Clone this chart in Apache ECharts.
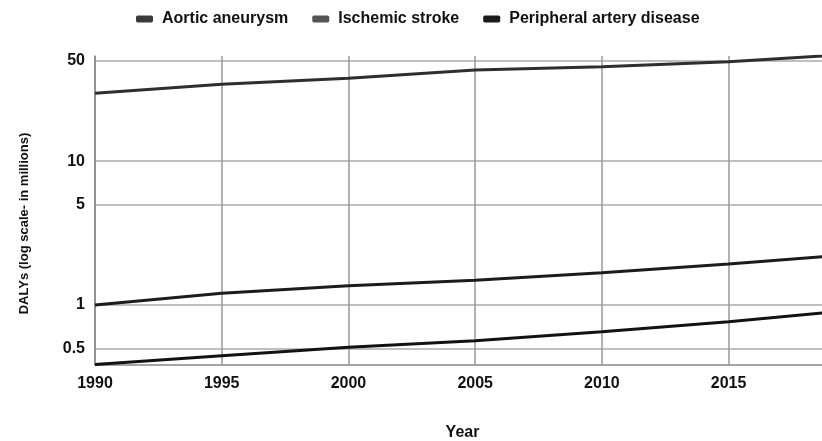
<!DOCTYPE html>
<html><head><meta charset="utf-8">
<script src="https://cdn.jsdelivr.net/npm/echarts@6/dist/echarts.min.js"></script>
<style>html,body{margin:0;padding:0;background:#fff}#c{width:822px;height:441px}</style>
</head><body><div id="c"></div>
<script>
const years = [1990, 1995, 2000, 2005, 2010, 2015, 2019];
const aorticAneurysm = [1.0, 1.21, 1.36, 1.49, 1.68, 1.93, 2.19];
const ischemicStroke = [29.7, 34.3, 37.7, 43.1, 45.4, 49.2, 54.4];
const peripheralArteryDisease = [0.386, 0.444, 0.508, 0.564, 0.652, 0.765, 0.89];
const yTickValues = [0.5, 1, 5, 10, 50];
const seriesNames = ['Aortic aneurysm', 'Ischemic stroke', 'Peripheral artery disease'];
const lineColors = ['#1c1c1c', '#2e2e2e', '#121212'];
const legendColors = ['#3a3a3a', '#555555', '#1a1a1a'];

const allValues = [aorticAneurysm, ischemicStroke, peripheralArteryDisease];
const font = '"Liberation Sans", Arial, sans-serif';

const chart = echarts.init(document.getElementById('c'), null, {renderer: 'canvas'});
chart.setOption({
  animation: false,
  backgroundColor: '#fff',
  legend: {
    top: 6, left: 131,
    icon: 'roundRect', itemWidth: 17, itemHeight: 7, itemGap: 24,
    data: seriesNames.map((name, i) => ({name, itemStyle: {color: legendColors[i]}})),
    textStyle: {fontFamily: font, fontWeight: 'bold', fontSize: 16, color: '#111', padding: [0, 0, 0, 4]}
  },
  grid: {left: 95, right: -8, top: 56, bottom: 76, outerBoundsMode: 'none', containLabel: false},
  xAxis: {
    type: 'value', min: 1990, max: 2019, interval: 5,
    name: 'Year', nameLocation: 'middle', nameGap: 60,
    nameTextStyle: {fontFamily: font, fontWeight: 'bold', fontSize: 16, color: '#111'},
    axisLine: {show: true, lineStyle: {color: '#888', width: 1.5}},
    axisTick: {show: false},
    axisLabel: {fontFamily: font, fontWeight: 'bold', fontSize: 16, color: '#111', margin: 11, showMaxLabel: false,
      formatter: v => String(v)},
    splitLine: {show: true, lineStyle: {color: '#999', width: 1.5}}
  },
  yAxis: {
    type: 'log', logBase: 10, min: 0.383, max: 53.9,
    name: 'DALYs (log scale- in millions)', nameLocation: 'middle', nameGap: 64,
    nameTextStyle: {fontFamily: font, fontWeight: 'bold', fontSize: 13, color: '#111', padding: [0, 26, 0, 0]},
    axisLine: {show: true, lineStyle: {color: '#888', width: 1.5}},
    axisTick: {show: false, customValues: yTickValues},
    axisLabel: {fontFamily: font, fontWeight: 'bold', fontSize: 16, color: '#111', margin: 10,
      customValues: yTickValues, formatter: v => String(+(+v).toPrecision(3))},
    splitLine: {show: true, lineStyle: {color: '#aaa', width: 1.5}}
  },
  series: seriesNames.map((name, i) => ({
    name, type: 'line', showSymbol: false, symbol: 'none',
    lineStyle: {width: 3, color: lineColors[i]}, itemStyle: {color: lineColors[i]},
    data: years.map((y, j) => [y, allValues[i][j]])
  }))
});
</script></body></html>
